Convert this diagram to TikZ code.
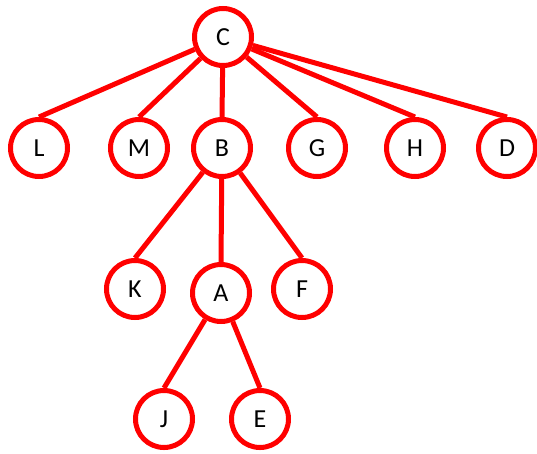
\documentclass[tikz,border=0pt]{standalone}
\usepackage{fontspec}
\setmainfont{Carlito}
\begin{document}
\begin{tikzpicture}[x=1pt,y=-1pt,
  vert/.style={circle,draw=red,line width=5pt,fill=white,minimum size=57pt,inner sep=0pt,font=\fontsize{26}{26}\selectfont},
  edge/.style={draw=red,line width=5pt}]
\useasboundingbox (0,0) rectangle (537,453);
% vertices
\node[vert] (C) at (223,37) {C};
\node[vert] (L) at (39,148) {L};
\node[vert] (M) at (139,148) {M};
\node[vert] (B) at (222,148) {B};
\node[vert] (G) at (317,148) {G};
\node[vert] (H) at (415,148) {H};
\node[vert] (D) at (507,148) {D};
\node[vert] (K) at (135,289) {K};
\node[vert] (A) at (221,293) {A};
\node[vert] (F) at (302,289) {F};
\node[vert] (J) at (164,419) {J};
\node[vert] (E) at (260,419) {E};
% edges from each parent to the top of its children
\foreach \c in {L,M,B,G,H,D} \draw[edge] (C) -- (\c.north);
\foreach \c in {K,A,F} \draw[edge] (B) -- (\c.north);
\foreach \c in {J,E} \draw[edge] (A) -- (\c.north);
\end{tikzpicture}
\end{document}
